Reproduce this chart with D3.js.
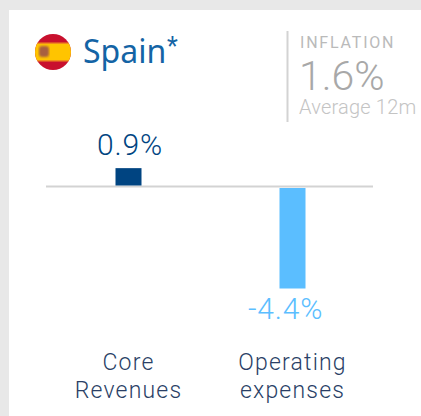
<!DOCTYPE html>
<html>
<head>
<meta charset="utf-8">
<script src="https://cdn.jsdelivr.net/npm/d3@7"></script>
<style>
  html, body { margin: 0; padding: 0; background: #e8e8e8; overflow: hidden; }
  text { font-family: Roboto, sans-serif; font-weight: 300; }
</style>
</head>
<body>
<svg width="421" height="416"></svg>
<script>
// chart data
var categories = ['Core', 'Operating'];
var categoryLines = [['Core', 'Revenues'], ['Operating', 'expenses']];
var valueLabels = ['0.9%', '-4.4%'];
var barValues = [0.76, -4.4];   // drawn height of the bars (first one is shorter than its label says)
var barColors = ['#004481', '#5bbeff'];
var inflationLines = ['INFLATION', '1.6%', 'Average 12m'];

var svg = d3.select('svg');

// white card
svg.append('rect')
   .attr('x', 9).attr('y', 10)
   .attr('width', 412).attr('height', 406)
   .attr('fill', '#fff');

// flag
var defs = svg.append('defs');
defs.append('clipPath').attr('id', 'flagClip')
    .append('circle').attr('cx', 53).attr('cy', 52).attr('r', 18);
defs.append('filter').attr('id', 'soft')
    .append('feGaussianBlur').attr('stdDeviation', 1);

var flag = svg.append('g').attr('clip-path', 'url(#flagClip)');
flag.append('rect').attr('x', 35).attr('y', 34).attr('width', 36).attr('height', 36).attr('fill', '#c8102e');
flag.append('rect').attr('x', 35).attr('y', 43).attr('width', 36).attr('height', 18).attr('fill', '#ffc400');
flag.append('rect').attr('x', 35).attr('y', 42.5).attr('width', 36).attr('height', 1.5).attr('fill', '#f08a1c');
flag.append('rect').attr('x', 35).attr('y', 60).attr('width', 36).attr('height', 1.5).attr('fill', '#f08a1c');
flag.append('rect').attr('x', 39).attr('y', 46).attr('width', 10).attr('height', 11)
    .attr('rx', 3).attr('fill', '#a8603f').attr('filter', 'url(#soft)');

// title
svg.append('text')
   .attr('x', 83).attr('y', 63)
   .attr('fill', '#1464a5')
   .style('font-size', '32px')
   .style('font-family', '"Noto Sans", sans-serif')
   .style('font-weight', 400)
   .text('Spain');
svg.append('text')
   .attr('x', 167).attr('y', 55)
   .attr('fill', '#1464a5')
   .style('font-size', '25px')
   .style('font-weight', 400)
   .text('*');

// inflation box
svg.append('line')
   .attr('x1', 287.5).attr('x2', 287.5)
   .attr('y1', 31).attr('y2', 122)
   .attr('stroke', '#d3d3d3').attr('stroke-width', 2);
svg.append('text').attr('x', 300).attr('y', 48)
   .attr('fill', '#bababa')
   .style('font-size', '16px').style('font-weight', 400)
   .style('letter-spacing', '1.8px')
   .text(inflationLines[0]);
svg.append('text').attr('x', 299).attr('y', 90)
   .attr('fill', '#a8a8a8')
   .style('font-size', '41px')
   .text(inflationLines[1]);
svg.append('text').attr('x', 299).attr('y', 114)
   .attr('fill', '#c4c4c4')
   .style('font-size', '20px')
   .style('letter-spacing', '0.2px')
   .text(inflationLines[2]);

// scales
var x = d3.scalePoint()
  .domain(categories)
  .range([128.5, 292.5]);

var y = d3.scaleLinear()
  .domain([-4.4, 0])
  .range([287, 186.5]);

var barWidth = 26;
var centre = function(d, i){ return x(categories[i]); };

// baseline
svg.append('line')
   .attr('x1', 46).attr('x2', 373)
   .attr('y1', y(0)).attr('y2', y(0))
   .attr('stroke', '#d3d3d3').attr('stroke-width', 2);

// bars
svg.selectAll('.bar')
   .data(barValues)
   .enter()
   .append('rect')
   .attr('class', 'bar')
   .attr('x', function(d, i){ return centre(d, i) - barWidth / 2; })
   .attr('y', function(d){ return d > 0 ? y(d) - 1 : y(0) + 1.5; })
   .attr('width', barWidth)
   .attr('height', function(d){ return Math.abs(y(d) - y(0)); })
   .attr('fill', function(d, i){ return barColors[i]; });

// value labels
svg.selectAll('.value')
   .data(barValues)
   .enter()
   .append('text')
   .attr('class', 'value')
   .attr('x', function(d, i){ return centre(d, i) + (d > 0 ? 1.5 : -7); })
   .attr('y', function(d){ return d > 0 ? y(d) - 14 : y(d) + 32; })
   .attr('text-anchor', 'middle')
   .attr('fill', function(d, i){ return barColors[i]; })
   .style('font-size', '30px')
   .style('letter-spacing', '0.8px')
   .text(function(d, i){ return valueLabels[i]; });

// category labels
var labels = svg.selectAll('.cat')
   .data(categoryLines)
   .enter()
   .append('text')
   .attr('class', 'cat')
   .attr('text-anchor', 'middle')
   .attr('fill', '#2a3f66')
   .style('font-size', '23px')
   .style('letter-spacing', '1.2px');

labels.selectAll('tspan')
   .data(function(d, i){ return d.map(function(t){ return {t: t, i: i}; }); })
   .enter()
   .append('tspan')
   .attr('x', function(d){ return centre(null, d.i); })
   .attr('y', function(d, j){ return 370 + j * 28; })
   .text(function(d){ return d.t; });
</script>
</body>
</html>
